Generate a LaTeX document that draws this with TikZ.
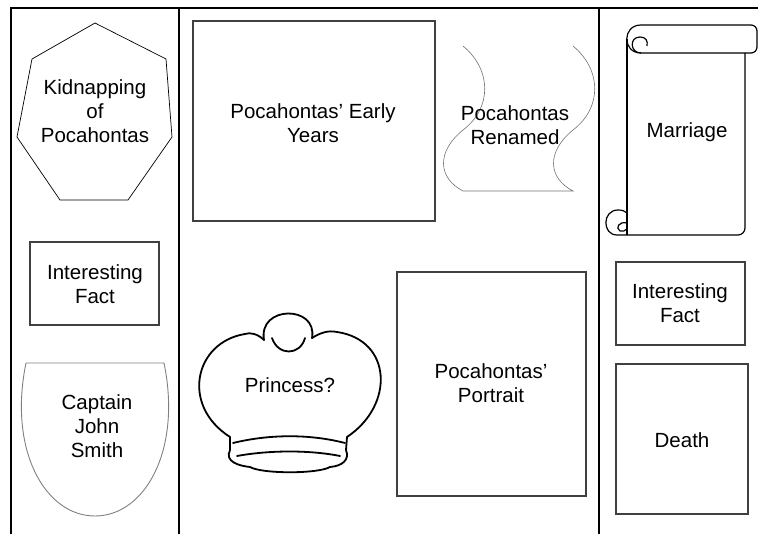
\documentclass[tikz,border=0pt]{standalone}
\usepackage{fontspec}
\setmainfont{Liberation Sans}
\begin{document}
\begin{tikzpicture}[x=1pt,y=-1pt,
  frameline/.style={line width=1.1pt,black},
  boxline/.style={line width=1.1pt,draw=black!75},
  thinline/.style={line width=0.6pt,draw=black!55},
  crownline/.style={line width=1.8pt,line cap=round,line join=round},
  lbl/.style={align=center,inner sep=0pt,font=\fontsize{20.5}{24}\selectfont}]
\useasboundingbox (0,0) rectangle (758,534);
% frame
\draw[frameline] (11,534) -- (11,8) -- (758,8);
\draw[frameline] (179,8) -- (179,534);
\draw[frameline] (599,8) -- (599,534);
% heptagon
\draw[line width=0.7pt] (95,23) -- (166,59) -- (172,137) -- (128,200) -- (60,200) -- (17,137) -- (32,59) -- cycle;
\node[lbl] (kid) at (95,111) {Kidnapping\\of\\Pocahontas};
% left interesting fact
\draw[boxline] (30,242) rectangle (159,325);
\node[lbl] (if1) at (95,284) {Interesting\\Fact};
% shield
\draw[line width=0.9pt,draw=black!50] (26,363) -- (164,363) .. controls (182,450) and (145,516) .. (95,516) .. controls (45,516) and (8,450) .. (26,363);
\node[lbl] (cjs) at (97,426) {Captain\\John\\Smith};
% early years
\draw[boxline] (193,21) rectangle (435,221);
\node[lbl] (early) at (313,123) {Pocahontas’ Early\\Years};
% wave shape
\draw[thinline] (463,46) .. controls (492,70) and (492,108) .. (463,130) .. controls (436,152) and (438,178) .. (463,191) -- (573,191) .. controls (548,178) and (546,152) .. (573,130) .. controls (602,108) and (602,70) .. (573,46);
\node[lbl] (renamed) at (515,125) {Pocahontas\\Renamed};
% scroll
\draw[line width=1.2pt,rounded corners=6] (641,25) -- (757,25) -- (757,53) -- (641,53);
\draw[line width=1.2pt] (641,25) .. controls (622,25) and (622,53) .. (641,53);
\draw[line width=1.2pt] (641,53) .. controls (630,53) and (629,37) .. (640,37) .. controls (646,37) and (648,41) .. (647,46);
\draw[line width=1.2pt] (627,39) -- (627,235);
\draw[line width=1.2pt,rounded corners=7] (745,53) -- (745,235) -- (617,235);
\draw[line width=1.2pt] (617,235) .. controls (602,235) and (602,210) .. (618,210) .. controls (622,210) and (625,211) .. (627,213);
\draw[line width=1.2pt] (627,223) .. controls (619,221) and (615,228) .. (620,231) .. controls (622,232) and (625,231) .. (627,229);
\node[lbl] (marriage) at (687,132) {Marriage};
% crown
\draw[crownline] (264,340) .. controls (258,305) and (318,305) .. (312,338);
\draw[crownline] (272,338) .. controls (278,356) and (300,356) .. (305,338);
\draw[crownline] (264,340) .. controls (258,334) and (250,332) .. (245,334) .. controls (195,342) and (180,405) .. (230,437);
\draw[crownline] (312,338) .. controls (320,333) and (328,330) .. (337,332) .. controls (392,340) and (395,405) .. (347,437);
\draw[crownline] (230,437) -- (230,450) .. controls (224,462) and (240,466) .. (250,467) .. controls (262,474) and (318,474) .. (330,467) .. controls (342,466) and (350,460) .. (346,450) -- (347,437);
\draw[crownline] (233,443) .. controls (270,434) and (310,434) .. (345,443);
\draw[crownline] (237,456) .. controls (270,450) and (310,450) .. (340,456);
\node[lbl] (princess) at (290,385) {Princess?};
% portrait
\draw[boxline] (397,272) rectangle (586,496);
\node[lbl] (portrait) at (491,383) {Pocahontas’\\Portrait};
% right interesting fact
\draw[boxline] (616,262) rectangle (745,345);
\node[lbl] (if2) at (680,303) {Interesting\\Fact};
% death
\draw[boxline] (616,364) rectangle (748,514);
\node[lbl] (death) at (682,440) {Death};
\end{tikzpicture}
\end{document}
